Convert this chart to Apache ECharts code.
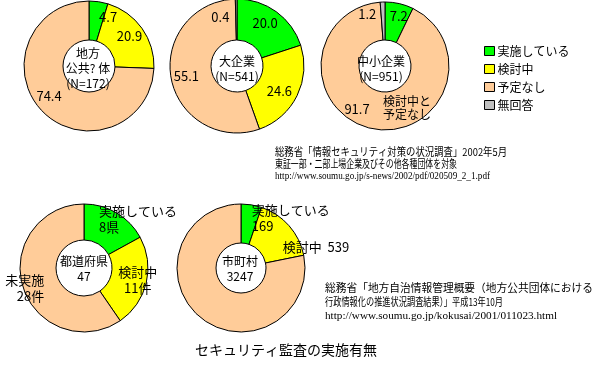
<!DOCTYPE html>
<html><head><meta charset="utf-8">
<script src="https://cdn.jsdelivr.net/npm/echarts@6/dist/echarts.min.js"></script>
<style>html,body{margin:0;padding:0;background:#fff}#c{width:601px;height:365px}</style>
</head><body><div id="c"></div>
<script>
// ---------- data ----------
const categories = ['実施している', '検討中', '予定なし', '無回答'];
const localGovValues = [4.7, 20.9, 74.4, 0];
const largeEntValues = [20.0, 24.6, 55.1, 0.4];
const smallEntValues = [7.2, 0, 91.7, 1.2];
const prefCategories = ['実施している', '検討中', '未実施'];
const prefCounts = [8, 11, 28];
const prefUnits = ['県', '件', '件'];
const muniCategories = ['実施している', '検討中', '未実施'];
const muniCounts = [169, 539, 2539];
const centerLabels = ['地方\n公共? 体\n(N=172)', '大企業\n(N=541)', '中小企業\n(N=951)', '都道府県\n47', '市町村\n3247'];
const smallEntNote = '検討中と\n予定なし';
const chartTitle = 'セキュリティ監査の実施有無';
const source1 = ['総務省「情報セキュリティ対策の状況調査」2002年5月', '東証一部・二部上場企業及びその他各種団体を対象', 'http://www.soumu.go.jp/s-news/2002/pdf/020509_2_1.pdf'];
const source2 = ['総務省「地方自治情報管理概要（地方公共団体における', '行政情報化の推進状況調査結果）」平成13年10月', 'http://www.soumu.go.jp/kokusai/2001/011023.html'];

// ---------- styles / layout ----------
const JP = '"Noto Sans CJK JP"';
const SERIF = '"Liberation Serif"';
const colors = {'実施している': '#00FF00', '検討中': '#FFFF00', '予定なし': '#FFCC99', '未実施': '#FFCC99', '無回答': '#C0C0C0'};

function donut(center, radius, names, values, fmt, offsets) {
  const data = names.map((n, i) => ({name: n, value: values[i]})).filter(d => d.value > 0);
  return {
    type: 'pie', center: center, radius: radius, startAngle: 90, clockwise: true,
    avoidLabelOverlap: false, silent: true, animation: false,
    emphasis: {disabled: true},
    itemStyle: {borderColor: '#000', borderWidth: 1},
    label: {show: true, position: 'inside', fontSize: 13, fontFamily: JP, color: '#000', lineHeight: 16,
      formatter: p => fmt(p.name, p.value, p.dataIndex)},
    labelLine: {show: false},
    labelLayout: p => {
      const o = offsets[data[p.dataIndex].name] || {};
      const r = {dx: o.dx || 0, dy: o.dy || 0};
      if (o.align) r.align = o.align;
      return r;
    },
    data: data.map(d => ({name: d.name, value: d.value, itemStyle: {color: colors[d.name]}}))
  };
}

const pct = (n, v) => v.toFixed(1);
const series = [
  donut([89, 66], [26, 65], categories, localGovValues, pct,
    {'実施している': {dx: 12, dy: -1}, '検討中': {dx: 1, dy: -2}, '予定なし': {dx: -5, dy: -4}}),
  donut([237, 66], [26, 67], categories, largeEntValues, pct,
    {'実施している': {dx: -1, dy: -3}, '検討中': {dx: -2, dy: 3}, '予定なし': {dx: -2, dy: 1}, '無回答': {dx: -16, dy: 1}}),
  donut([385, 66], [26, 64], categories, smallEntValues, pct,
    {'実施している': {dx: 3, dy: -3}, '予定なし': {dx: -19, dy: -4}, '無回答': {dx: -16, dy: -4}}),
  donut([84, 268], [28, 64], prefCategories, prefCounts,
    (n, v) => { const i = prefCategories.indexOf(n); return n + '\n' + v + prefUnits[i]; },
    {'実施している': {dx: -10, dy: -7, align: 'left'}, '検討中': {dx: 6, dy: 1}, '未実施': {dx: 7, dy: 6, align: 'right'}}),
  donut([241, 268], [25, 64], muniCategories, muniCounts,
    (n, v) => n === '実施している' ? n + '\n' + v : (n === '検討中' ? n + '  ' + v : ''),
    {'実施している': {dx: 3, dy: -3, align: 'left'}, '検討中': {dx: 6, dy: 10, align: 'left'}})
];

// text fitting helper
const mctx = document.createElement('canvas').getContext('2d');
function fit(text, size, family, target) {
  mctx.font = size + 'px ' + family;
  return target / mctx.measureText(text).width;
}
function srcLine(text, x, y, size, family, target) {
  return {type: 'text', x: x, y: y, scaleX: fit(text, size, family, target), silent: true,
    style: {text: text, fontSize: size, fontFamily: family, fill: '#000', align: 'left', verticalAlign: 'middle'}};
}
function centerText(text, x, y) {
  return {type: 'text', x: x, y: y, silent: true, z: 10,
    style: {text: text, fontSize: 12, fontFamily: JP, fill: '#000', align: 'center', verticalAlign: 'middle', lineHeight: 15}};
}

const centers = [[88, 68], [237, 69], [381, 69], [84, 269], [240, 269]];
const graphics = centerLabels.map((t, i) => centerText(t, centers[i][0], centers[i][1]));
graphics.push({type: 'text', x: 383, y: 108, silent: true, z: 10,
  style: {text: smallEntNote, fontSize: 12, fontFamily: JP, fill: '#000', align: 'left', verticalAlign: 'middle', lineHeight: 13}});
graphics.push(srcLine(source1[0], 275, 152, 11, JP, 232));
graphics.push(srcLine(source1[1], 275, 164, 11, JP, 182));
graphics.push(srcLine(source1[2], 275, 176, 11, SERIF, 215));
graphics.push(srcLine(source2[0], 325, 288, 11, JP, 268));
graphics.push(srcLine(source2[1], 325, 302, 11, JP, 178));
graphics.push(srcLine(source2[2], 325, 316, 11, SERIF, 232));
graphics.push({type: 'text', x: 195, y: 350, silent: true,
  style: {text: chartTitle, fontSize: 14, fontFamily: JP, fill: '#000', align: 'left', verticalAlign: 'middle'}});

const chart = echarts.init(document.getElementById('c'), null, {renderer: 'canvas'});
chart.setOption({
  animation: false,
  backgroundColor: '#fff',
  legend: {
    orient: 'vertical', left: 479, top: 40, itemWidth: 10, itemHeight: 9, itemGap: 6,
    icon: 'rect', selectedMode: false, data: categories,
    itemStyle: {borderColor: '#000', borderWidth: 1},
    textStyle: {fontSize: 12, fontFamily: JP, color: '#000', lineHeight: 12, padding: [0, 0, 0, -2]}
  },
  graphic: graphics,
  series: series
});
</script>
</body></html>
